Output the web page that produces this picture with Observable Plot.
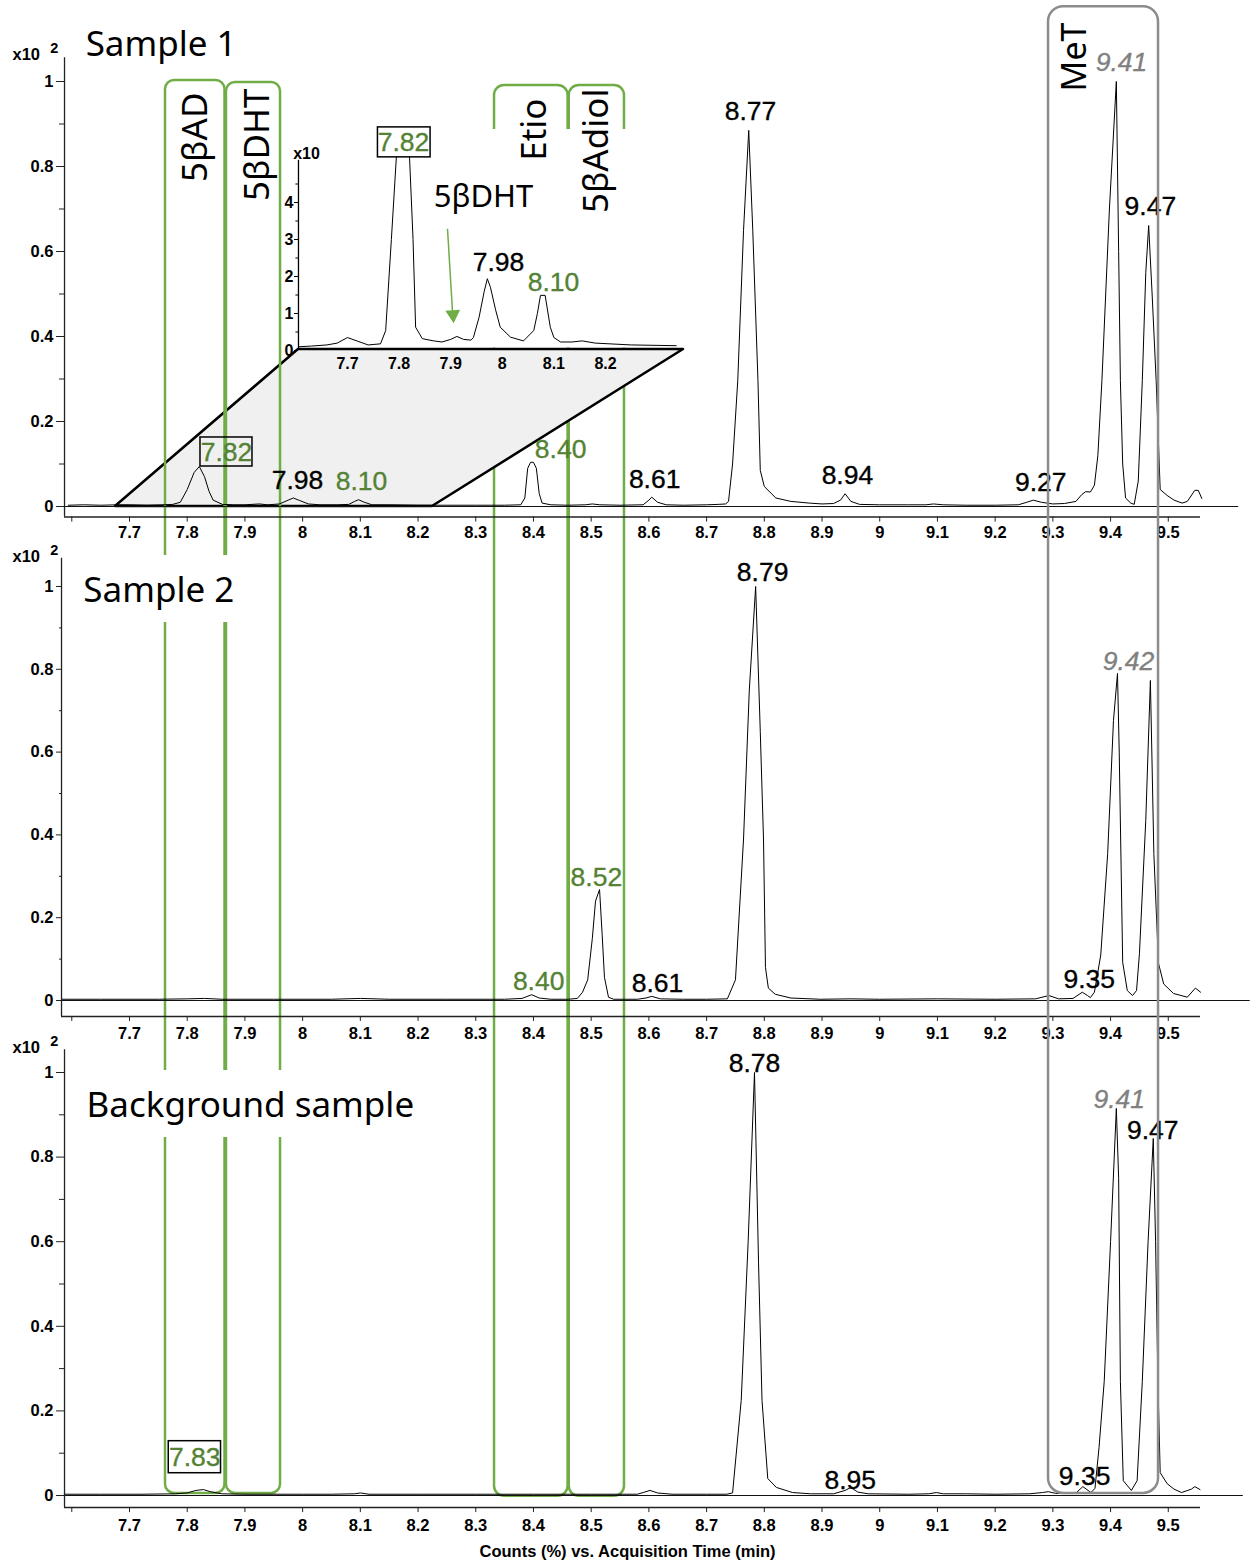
<!DOCTYPE html>
<html><head><meta charset="utf-8">
<script src="https://cdn.jsdelivr.net/npm/d3@7"></script>
<script src="https://cdn.jsdelivr.net/npm/@observablehq/plot@0.6"></script>
<style>
body{margin:0;background:#fff;}
#wrap{position:relative;width:1256px;height:1566px;overflow:hidden;background:#fff;}
#wrap svg{position:absolute;left:0;top:0;}
</style></head><body><div id="wrap"></div>
<script>
// ================= DATA (time in min, counts in x10^2 %) =================
const sample1 = [[7.594,.003],[7.62,.004],[7.65,.003],[7.68,.004],[7.70,.004],[7.73,.003],[7.76,.004],[7.775,.005],[7.788,.01],[7.80,.04],[7.812,.08],[7.821,.094],[7.83,.07],[7.838,.035],[7.845,.015],[7.861,.005],[7.88,.004],[7.90,.004],[7.925,.006],[7.94,.004],[7.96,.006],[7.975,.015],[7.984,.02],[7.995,.014],[8.01,.006],[8.03,.004],[8.06,.004],[8.08,.005],[8.09,.012],[8.097,.016],[8.105,.011],[8.12,.004],[8.15,.004],[8.2,.003],[8.25,.003],[8.3,.003],[8.35,.003],[8.378,.004],[8.385,.02],[8.39,.09],[8.395,.104],[8.40,.104],[8.405,.09],[8.41,.03],[8.415,.008],[8.43,.004],[8.46,.003],[8.49,.004],[8.502,.006],[8.515,.004],[8.55,.003],[8.59,.004],[8.60,.015],[8.605,.022],[8.615,.01],[8.63,.004],[8.66,.003],[8.70,.004],[8.72,.005],[8.733,.006],[8.738,.012],[8.745,.1],[8.754,.296],[8.764,.65],[8.773,.885],[8.78,.65],[8.789,.296],[8.793,.085],[8.80,.047],[8.82,.02],[8.846,.012],[8.878,.008],[8.90,.006],[8.92,.007],[8.932,.015],[8.94,.03],[8.95,.012],[8.965,.005],[9.0,.004],[9.05,.004],[9.08,.004],[9.093,.006],[9.11,.004],[9.15,.003],[9.2,.003],[9.24,.004],[9.255,.01],[9.266,.015],[9.28,.01],[9.30,.006],[9.32,.007],[9.34,.012],[9.35,.028],[9.357,.035],[9.365,.034],[9.372,.05],[9.378,.12],[9.385,.296],[9.398,.7],[9.41,1.0],[9.414,.6],[9.417,.296],[9.421,.1],[9.426,.02],[9.435,.008],[9.441,.005],[9.448,.06],[9.455,.296],[9.461,.55],[9.466,.661],[9.472,.5],[9.479,.296],[9.486,.04],[9.498,.026],[9.51,.015],[9.524,.008],[9.533,.012],[9.546,.038],[9.552,.038],[9.558,.019]];

const sample2 = [[7.582,.003],[7.65,.003],[7.75,.003],[7.80,.004],[7.83,.005],[7.86,.003],[7.95,.003],[8.05,.003],[8.10,.005],[8.15,.003],[8.25,.003],[8.35,.003],[8.38,.005],[8.397,.014],[8.41,.006],[8.43,.003],[8.46,.003],[8.476,.005],[8.485,.02],[8.494,.05],[8.502,.15],[8.5075,.24],[8.5145,.268],[8.519,.16],[8.523,.056],[8.530,.008],[8.539,.003],[8.58,.003],[8.595,.006],[8.605,.01],[8.62,.004],[8.66,.003],[8.70,.003],[8.736,.004],[8.75,.05],[8.764,.39],[8.774,.75],[8.785,1.0],[8.793,.65],[8.7986,.39],[8.802,.08],[8.807,.03],[8.819,.015],[8.846,.006],[8.897,.003],[8.95,.004],[9.0,.003],[9.1,.004],[9.2,.003],[9.27,.004],[9.293,.012],[9.31,.004],[9.335,.005],[9.351,.02],[9.36,.012],[9.365,.007],[9.372,.02],[9.383,.11],[9.395,.355],[9.405,.676],[9.412,.79],[9.415,.6],[9.421,.092],[9.429,.024],[9.438,.012],[9.445,.024],[9.45,.113],[9.461,.435],[9.469,.773],[9.475,.355],[9.483,.09],[9.492,.04],[9.509,.017],[9.533,.008],[9.547,.03],[9.556,.02]];

const background = [[7.587,.003],[7.65,.003],[7.72,.003],[7.78,.004],[7.80,.006],[7.815,.012],[7.828,.014],[7.84,.009],[7.86,.004],[7.9,.003],[7.95,.003],[8.0,.003],[8.05,.003],[8.09,.004],[8.10,.006],[8.115,.003],[8.2,.003],[8.3,.003],[8.4,.003],[8.5,.003],[8.58,.003],[8.59,.007],[8.602,.012],[8.615,.006],[8.64,.003],[8.7,.003],[8.735,.003],[8.745,.006],[8.76,.225],[8.772,.6],[8.783,1.0],[8.790,.55],[8.796,.225],[8.806,.04],[8.821,.019],[8.849,.007],[8.88,.004],[8.92,.004],[8.94,.012],[8.95,.019],[8.962,.008],[8.98,.004],[9.05,.003],[9.085,.004],[9.098,.007],[9.11,.004],[9.15,.004],[9.2,.003],[9.26,.004],[9.282,.007],[9.292,.009],[9.305,.005],[9.34,.006],[9.352,.021],[9.366,.007],[9.373,.017],[9.38,.113],[9.389,.27],[9.40,.6],[9.41,.915],[9.414,.75],[9.417,.27],[9.422,.035],[9.436,.012],[9.446,.035],[9.455,.27],[9.465,.6],[9.474,.844],[9.478,.6],[9.482,.27],[9.486,.054],[9.498,.028],[9.51,.015],[9.523,.007],[9.54,.015],[9.546,.021],[9.555,.014]];

// inset of sample 1 (time in min, counts in x10 %)
const insetTrace = [[7.605,.1],[7.63,.12],[7.66,.15],[7.68,.2],[7.70,.35],[7.72,.25],[7.74,.15],[7.764,.18],[7.774,.54],[7.785,3.0],[7.795,5.3],[7.807,5.7],[7.82,5.3],[7.827,3.0],[7.832,.63],[7.845,.32],[7.867,.26],[7.883,.23],[7.90,.3],[7.912,.38],[7.925,.3],[7.939,.28],[7.944,.35],[7.955,.9],[7.965,1.6],[7.971,1.94],[7.977,1.71],[7.987,1.1],[7.996,.63],[8.016,.36],[8.041,.26],[8.061,.54],[8.068,1.0],[8.074,1.49],[8.083,1.49],[8.093,.63],[8.10,.35],[8.113,.23],[8.135,.23],[8.155,.26],[8.18,.2],[8.25,.15],[8.337,.13]];

const xTickValues = [7.6,7.7,7.8,7.9,8.0,8.1,8.2,8.3,8.4,8.5,8.6,8.7,8.8,8.9,9.0,9.1,9.2,9.3,9.4,9.5];
const xTickLabels = ["","7.7","7.8","7.9","8","8.1","8.2","8.3","8.4","8.5","8.6","8.7","8.8","8.9","9","9.1","9.2","9.3","9.4","9.5"];
const yTickValues = [0,0.2,0.4,0.6,0.8,1];
const yTickLabels = ["0","0.2","0.4","0.6","0.8","1"];
const yMinorValues = [0.1,0.3,0.5,0.7,0.9];
const insetXTicks = [7.7,7.8,7.9,8.0,8.1,8.2];
const insetXLabels = ["7.7","7.8","7.9","8","8.1","8.2"];
const insetYTicks = [0,1,2,3,4];
const insetYLabels = ["0","1","2","3","4"];
const insetYMinor = [0.5,1.5,2.5,3.5,4.5];

const panelTitles = [
  {p:"s1", text:"Sample 1", t:7.624, v:1.087},
  {p:"s2", text:"Sample 2", t:7.620, v:0.990},
  {p:"s3", text:"Background sample", t:7.6255, v:0.922}
];

// peak retention-time labels: k = black, g = green, i = grey italic
const peakLabels = [
  {p:"s1", t:7.991, v:.061, text:"7.98", c:"k"},
  {p:"s1", t:8.102, v:.059, text:"8.10", c:"g"},
  {p:"s1", t:8.447, v:.134, text:"8.40", c:"g"},
  {p:"s1", t:8.610, v:.064, text:"8.61", c:"k"},
  {p:"s1", t:8.776, v:.929, text:"8.77", c:"k"},
  {p:"s1", t:8.944, v:.073, text:"8.94", c:"k"},
  {p:"s1", t:9.279, v:.056, text:"9.27", c:"k"},
  {p:"s1", t:9.419, v:1.045, text:"9.41", c:"i"},
  {p:"s1", t:9.469, v:.706, text:"9.47", c:"k"},
  {p:"s1", t:7.868, v:.128, text:"7.82", c:"g"},
  {p:"s2", t:8.797, v:1.034, text:"8.79", c:"k"},
  {p:"s2", t:9.431, v:.819, text:"9.42", c:"i"},
  {p:"s2", t:8.509, v:.297, text:"8.52", c:"g"},
  {p:"s2", t:8.409, v:.046, text:"8.40", c:"g"},
  {p:"s2", t:8.615, v:.041, text:"8.61", c:"k"},
  {p:"s2", t:9.363, v:.051, text:"9.35", c:"k"},
  {p:"s3", t:8.783, v:1.021, text:"8.78", c:"k"},
  {p:"s3", t:9.415, v:.936, text:"9.41", c:"i"},
  {p:"s3", t:9.473, v:.863, text:"9.47", c:"k"},
  {p:"s3", t:7.813, v:.0905, text:"7.83", c:"g"},
  {p:"s3", t:8.949, v:.035, text:"8.95", c:"k"},
  {p:"s3", t:9.355, v:.045, text:"9.35", c:"k"}
];
const labelBoxes = [
  {p:"s1", x1:7.823, x2:7.9131, v1:.0941, v2:.1624},
  {p:"s3", x1:7.768, x2:7.8586, v1:.0527, v2:.1284}
];

// compound windows (time range; top in sample-1 units, bottom in background units)
const compoundBoxes = [
  {name:"5βAD",    x1:7.7624, x2:7.8655, top:1.0024, bottom:.005, layer:"front", lt:7.8144, lv:.974},
  {name:"5βDHT",   x1:7.8680, x2:7.9617, top:0.9976, bottom:.005, layer:"front", lt:7.9227, lv:.9835},
  {name:"Etio",    x1:8.3325, x2:8.4600, top:0.9906, bottom:-.002, layer:"back", lt:8.4027, lv:.96},
  {name:"5βAdiol", x1:8.4620, x2:8.5577, top:0.9906, bottom:-.002, layer:"back", lt:8.510, lv:.9835}
];
const metBox = {name:"MeT", x1:9.2925, x2:9.4831, top:1.176, bottom:.005, lt:9.339, lv:1.1388};

// ================= LAYOUT =================
const layout = { s1:{zero:506, unit:425}, s2:{zero:1000, unit:414}, s3:{zero:1495, unit:423} };
const REF = layout.s3, PAGE_W = 1256, PAGE_H = 1566;
const S = (p, v) => (REF.zero - layout[p].zero) / REF.unit + v * layout[p].unit / REF.unit;
const axisCfg = {
  s1:{yAxisT:7.5874, xAxisV:-0.0247, labelV:-0.061, topV:1.056, x10V:1.064, supV:1.078},
  s2:{yAxisT:7.5822, xAxisV:-0.0386, labelV:-0.0797, topV:1.068, x10V:1.072, supV:1.087},
  s3:{yAxisT:7.5874, xAxisV:-0.0284, labelV:-0.0709, topV:1.054, x10V:1.059, supV:1.073}
};
const baseEnd = {s1:9.622, s2:9.642, s3:9.63};
const xAxisEnd = 9.5558, yTickMajorT = 7.5735, yTickMinorT = 7.5787, yLabelT = 7.5683;
const xTickLen = 0.012;
const gaps = [ {p:"s2", x1:7.615, x2:7.880, v1:.913, v2:1.0749}, {p:"s3", x1:7.615, x2:8.182, v1:.8463, v2:1.0047} ];
const insetWhite = {p:"s1", x1:7.972, x2:8.672, v1:.373, v2:.887};
const para = [ {v:0, x1:7.6757, x2:8.225}, {v:.3694, x1:7.9928, x2:8.66} ];

const GREEN = "#70ad47", GREEN_TXT = "#548235", GRAY = "#8c8c8c", GRAY_TXT = "#808080";
const SANS = "Liberation Sans, Arial, Helvetica, sans-serif";
const HUMAN = "Noto Sans, Open Sans, sans-serif";
const colorOf = c => c === "g" ? GREEN_TXT : c === "i" ? GRAY_TXT : "#000";

// ================= BUILD TABLES =================
const panels = ["s1","s2","s3"];
const traceRows = [["s1",sample1],["s2",sample2],["s3",background]].flatMap(([p,arr]) => arr.map(([t,v]) => ({p, t, s:S(p,v)})));
const boxRows = b => ({...b, y1:S("s3", b.bottom), y2:S("s1", b.top)});
const backBoxes = compoundBoxes.filter(b => b.layer==="back").map(boxRows);
const frontBoxes = compoundBoxes.filter(b => b.layer==="front").map(boxRows);
const xTickRows = panels.flatMap(p => xTickValues.map((t,i) => ({p, t, label:xTickLabels[i]})));
const yTickRows = panels.flatMap(p => yTickValues.map((v,i) => ({p, v, label:yTickLabels[i]})));
const yMinorRows = panels.flatMap(p => yMinorValues.map(v => ({p, v})));

const main = Plot.plot({
  width: PAGE_W, height: PAGE_H, margin: 0,
  style: {background:"transparent", overflow:"visible"},
  x: {domain:[7.7 - 129/577.1, 7.7 + (PAGE_W-129)/577.1], range:[0, PAGE_W], axis:null},
  y: {domain:[(REF.zero-PAGE_H)/REF.unit, REF.zero/REF.unit], range:[PAGE_H, 0], axis:null},
  marks: [
    Plot.rect(backBoxes, {x1:"x1", x2:"x2", y1:"y1", y2:"y2", fill:"none", stroke:GREEN, strokeWidth:2.5, rx:10}),
    Plot.rect([insetWhite], {x1:"x1", x2:"x2", y1:d=>S(d.p,d.v1), y2:d=>S(d.p,d.v2), fill:"white"}),
    Plot.areaX(para, {y:d=>S("s1",d.v), x1:"x1", x2:"x2", fill:"#f0f0f0", stroke:"#000", strokeWidth:2.5, curve:"linear"}),
    Plot.rect(frontBoxes, {x1:"x1", x2:"x2", y1:"y1", y2:"y2", fill:"none", stroke:GREEN, strokeWidth:2.5, rx:9}),
    Plot.rect(gaps, {x1:"x1", x2:"x2", y1:d=>S(d.p,d.v1), y2:d=>S(d.p,d.v2), fill:"white"}),
    // baselines
    Plot.ruleY(panels.map(p => ({p})), {y:d=>S(d.p,0), x1:d=>axisCfg[d.p].yAxisT, x2:d=>baseEnd[d.p], stroke:"#111", strokeWidth:1}),
    // traces
    Plot.line(traceRows, {x:"t", y:"s", z:"p", stroke:"#000", strokeWidth:1, curve:"linear"}),
    // x axes
    Plot.ruleY(panels.map(p => ({p})), {y:d=>S(d.p,axisCfg[d.p].xAxisV), x1:d=>axisCfg[d.p].yAxisT, x2:xAxisEnd, stroke:"#222", strokeWidth:1.3}),
    Plot.ruleX(xTickRows, {x:"t", y1:d=>S(d.p,axisCfg[d.p].xAxisV), y2:d=>S(d.p,axisCfg[d.p].xAxisV - xTickLen), stroke:"#222", strokeWidth:1}),
    Plot.text(xTickRows, {x:"t", y:d=>S(d.p,axisCfg[d.p].labelV), text:"label", fontFamily:SANS, fontWeight:"bold", fontSize:16.5, fill:"#000"}),
    // y axes
    Plot.ruleX(panels.map(p => ({p})), {x:d=>axisCfg[d.p].yAxisT, y1:d=>S(d.p,axisCfg[d.p].xAxisV), y2:d=>S(d.p,axisCfg[d.p].topV), stroke:"#222", strokeWidth:1.3}),
    Plot.ruleY(yTickRows, {y:d=>S(d.p,d.v), x1:yTickMajorT, x2:d=>axisCfg[d.p].yAxisT, stroke:"#222", strokeWidth:1}),
    Plot.ruleY(yMinorRows, {y:d=>S(d.p,d.v), x1:yTickMinorT, x2:d=>axisCfg[d.p].yAxisT, stroke:"#222", strokeWidth:1}),
    Plot.text(yTickRows, {x:yLabelT, y:d=>S(d.p,d.v), text:"label", textAnchor:"end", fontFamily:SANS, fontWeight:"bold", fontSize:16.5, fill:"#000"}),
    Plot.text(panels.map(p => ({p})), {x:7.4973, y:d=>S(d.p,axisCfg[d.p].x10V), text:()=>"x10", textAnchor:"start", fontFamily:SANS, fontWeight:"bold", fontSize:16.5, fill:"#000"}),
    Plot.text(panels.map(p => ({p})), {x:7.5625, y:d=>S(d.p,axisCfg[d.p].supV), text:()=>"2", textAnchor:"start", fontFamily:SANS, fontWeight:"bold", fontSize:14.5, fill:"#000"}),
    Plot.text([{t:8.563, v:-0.1324}], {x:"t", y:d=>S("s3",d.v), text:()=>"Counts (%) vs. Acquisition Time (min)", fontFamily:SANS, fontWeight:"bold", fontSize:16.5, fill:"#000"}),
    // titles
    Plot.text(panelTitles, {x:"t", y:d=>S(d.p,d.v), text:"text", textAnchor:"start", fontFamily:HUMAN, fontSize:35, fill:"#000"}),
    // compound labels (rotated)
    Plot.text(compoundBoxes, {x:"lt", y:d=>S("s1",d.lv), text:"name", rotate:-90, textAnchor:"end", fontFamily:HUMAN, fontSize:35, fill:"#000"}),
    // peak labels
    Plot.rect(labelBoxes, {x1:"x1", x2:"x2", y1:d=>S(d.p,d.v1), y2:d=>S(d.p,d.v2), fill:"none", stroke:"#000", strokeWidth:1.5}),
    Plot.text(peakLabels.filter(d=>d.c!=="i"), {x:"t", y:d=>S(d.p,d.v), text:"text", fill:d=>colorOf(d.c), stroke:d=>colorOf(d.c), strokeWidth:0.35, fontFamily:SANS, fontSize:26.5}),
    Plot.text(peakLabels.filter(d=>d.c==="i"), {x:"t", y:d=>S(d.p,d.v), text:"text", fill:GRAY_TXT, stroke:GRAY_TXT, strokeWidth:0.35, fontStyle:"italic", fontFamily:SANS, fontSize:26.5}),
    // MeT window
    Plot.rect([metBox], {x1:"x1", x2:"x2", y1:d=>S("s3",d.bottom), y2:d=>S("s1",d.top), fill:"none", stroke:GRAY, strokeWidth:2.5, rx:15}),
    Plot.text([metBox], {x:"lt", y:d=>S("s1",d.lv), text:"name", rotate:-90, textAnchor:"end", fontFamily:HUMAN, fontSize:34, fill:"#000"})
  ]
});

// ================= INSET =================
const IL = 250, IT = 100;
const insetRows = insetTrace.map(([t,v]) => ({t, v}));
const inset = Plot.plot({
  width: 460, height: 290, margin: 0,
  style: {background:"transparent", overflow:"visible"},
  x: {domain:[7.7, 8.2], range:[347-IL, 605-IL], axis:null},
  y: {domain:[0, 4], range:[350-IT, 202-IT], axis:null},
  marks: [
    Plot.ruleX([{t:7.605}], {x:"t", y1:0, y2:5.14, stroke:"#000", strokeWidth:1.3}),
    Plot.ruleY(insetYTicks.map(v=>({v})), {y:"v", x1:7.5973, x2:7.605, stroke:"#000", strokeWidth:1}),
    Plot.ruleY(insetYMinor.map(v=>({v})), {y:"v", x1:7.600, x2:7.605, stroke:"#000", strokeWidth:1}),
    Plot.text(insetYTicks.map((v,i)=>({v, label:insetYLabels[i]})), {x:7.5953, y:"v", text:"label", textAnchor:"end", fontFamily:SANS, fontWeight:"bold", fontSize:16, fill:"#000"}),
    Plot.text([{t:7.6205, v:5.32}], {x:"t", y:"v", text:()=>"x10", fontFamily:SANS, fontWeight:"bold", fontSize:16, fill:"#000"}),
    Plot.text(insetXTicks.map((t,i)=>({t, label:insetXLabels[i]})), {x:"t", y:-0.351, text:"label", fontFamily:SANS, fontWeight:"bold", fontSize:16, fill:"#000"}),
    Plot.line(insetRows, {x:"t", y:"v", stroke:"#000", strokeWidth:1}),
    Plot.rect([{x1:7.759, x2:7.861, y1:5.22, y2:6.03}], {x1:"x1", x2:"x2", y1:"y1", y2:"y2", fill:"white", stroke:"#000", strokeWidth:1.5}),
    Plot.text([{t:7.8085, v:5.62, text:"7.82", c:"g"}, {t:7.9926, v:2.378, text:"7.98", c:"k"}, {t:8.0992, v:1.84, text:"8.10", c:"g"}],
      {x:"t", y:"v", text:"text", fill:d=>colorOf(d.c), stroke:d=>colorOf(d.c), strokeWidth:0.35, fontFamily:SANS, fontSize:26.5}),
    Plot.text([{t:7.9636, v:4.135}], {x:"t", y:"v", text:()=>"5βDHT", fontFamily:HUMAN, fontSize:31, fill:"#000"}),
    Plot.link([{x1:7.8938, y1:3.289, x2:7.9035, y2:1.05}], {x1:"x1", y1:"y1", x2:"x2", y2:"y2", stroke:GREEN, strokeWidth:1.5}),
    Plot.dot([{t:7.9045, v:0.97}], {x:"t", y:"v", symbol:"triangle", r:5.5, fill:GREEN, stroke:"none", rotate:176})
  ]
});
inset.style.left = IL + "px"; inset.style.top = IT + "px";

const wrap = document.getElementById("wrap");
wrap.appendChild(main);
wrap.appendChild(inset);
</script>
</body></html>
